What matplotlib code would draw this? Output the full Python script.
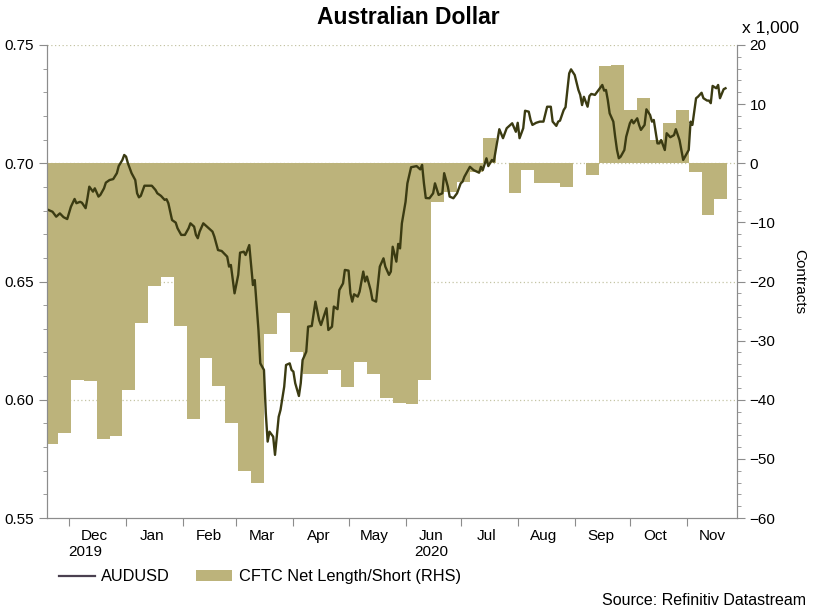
import pandas as pd
import matplotlib
matplotlib.use('Agg')
import matplotlib.pyplot as plt
import matplotlib.dates as mdates
from matplotlib.lines import Line2D
from matplotlib.patches import Patch
from matplotlib.ticker import MultipleLocator, NullFormatter

plt.rcParams['font.family'] = ['Liberation Sans', 'DejaVu Sans']

# AUDUSD (daily)
aud_dates = [
    '2019-11-19', '2019-11-22', '2019-11-24', '2019-11-26', '2019-11-28', '2019-11-30',
    '2019-12-02', '2019-12-04', '2019-12-05', '2019-12-07', '2019-12-08', '2019-12-10',
    '2019-12-11', '2019-12-12', '2019-12-14', '2019-12-15', '2019-12-17', '2019-12-18',
    '2019-12-20', '2019-12-21', '2019-12-23', '2019-12-25', '2019-12-27', '2019-12-28',
    '2019-12-30', '2019-12-31', '2020-01-01', '2020-01-02', '2020-01-04', '2020-01-06',
    '2020-01-07', '2020-01-08', '2020-01-09', '2020-01-11', '2020-01-13', '2020-01-15',
    '2020-01-17', '2020-01-18', '2020-01-20', '2020-01-22', '2020-01-23', '2020-01-24',
    '2020-01-26', '2020-01-28', '2020-01-29', '2020-01-31', '2020-02-02', '2020-02-04',
    '2020-02-05', '2020-02-07', '2020-02-08', '2020-02-09', '2020-02-10', '2020-02-12',
    '2020-02-15', '2020-02-17', '2020-02-18', '2020-02-20', '2020-02-22', '2020-02-25',
    '2020-02-26', '2020-02-27', '2020-02-29', '2020-03-02', '2020-03-03', '2020-03-05',
    '2020-03-06', '2020-03-08', '2020-03-10', '2020-03-11', '2020-03-13', '2020-03-14',
    '2020-03-16', '2020-03-17', '2020-03-18', '2020-03-19', '2020-03-21', '2020-03-22',
    '2020-03-24', '2020-03-25', '2020-03-27', '2020-03-28', '2020-03-30', '2020-03-31',
    '2020-04-01', '2020-04-02', '2020-04-04', '2020-04-05', '2020-04-06', '2020-04-08',
    '2020-04-09', '2020-04-11', '2020-04-13', '2020-04-15', '2020-04-16', '2020-04-19',
    '2020-04-20', '2020-04-22', '2020-04-23', '2020-04-25', '2020-04-26', '2020-04-28',
    '2020-04-29', '2020-05-01', '2020-05-02', '2020-05-03', '2020-05-04', '2020-05-06',
    '2020-05-07', '2020-05-09', '2020-05-10', '2020-05-11', '2020-05-13', '2020-05-14',
    '2020-05-16', '2020-05-18', '2020-05-20', '2020-05-21', '2020-05-23', '2020-05-24',
    '2020-05-25', '2020-05-27', '2020-05-28', '2020-05-29', '2020-05-30', '2020-06-01',
    '2020-06-02', '2020-06-04', '2020-06-07', '2020-06-09', '2020-06-10', '2020-06-11',
    '2020-06-12', '2020-06-14', '2020-06-16', '2020-06-17', '2020-06-19', '2020-06-21',
    '2020-06-22', '2020-06-24', '2020-06-25', '2020-06-27', '2020-06-29', '2020-07-01',
    '2020-07-02', '2020-07-03', '2020-07-06', '2020-07-08', '2020-07-11', '2020-07-12',
    '2020-07-13', '2020-07-15', '2020-07-16', '2020-07-18', '2020-07-19', '2020-07-21',
    '2020-07-22', '2020-07-24', '2020-07-26', '2020-07-28', '2020-07-29', '2020-07-31',
    '2020-08-01', '2020-08-02', '2020-08-04', '2020-08-05', '2020-08-07', '2020-08-08',
    '2020-08-09', '2020-08-11', '2020-08-13', '2020-08-15', '2020-08-17', '2020-08-19',
    '2020-08-20', '2020-08-22', '2020-08-23', '2020-08-24', '2020-08-26', '2020-08-27',
    '2020-08-28', '2020-08-29', '2020-08-30', '2020-09-01', '2020-09-03', '2020-09-04',
    '2020-09-05', '2020-09-06', '2020-09-08', '2020-09-09', '2020-09-10', '2020-09-12',
    '2020-09-14', '2020-09-16', '2020-09-17', '2020-09-18', '2020-09-19', '2020-09-20',
    '2020-09-22', '2020-09-23', '2020-09-24', '2020-09-25', '2020-09-26', '2020-09-28',
    '2020-09-29', '2020-10-01', '2020-10-02', '2020-10-03', '2020-10-05', '2020-10-06',
    '2020-10-07', '2020-10-09', '2020-10-10', '2020-10-12', '2020-10-13', '2020-10-14',
    '2020-10-16', '2020-10-17', '2020-10-18', '2020-10-20', '2020-10-21', '2020-10-23',
    '2020-10-25', '2020-10-26', '2020-10-28', '2020-10-30', '2020-10-31', '2020-11-02',
    '2020-11-03', '2020-11-04', '2020-11-06', '2020-11-07', '2020-11-09', '2020-11-10',
    '2020-11-12', '2020-11-13', '2020-11-14', '2020-11-15', '2020-11-17', '2020-11-18',
    '2020-11-19', '2020-11-21', '2020-11-22',
]
aud_values = [
    0.6805, 0.6795, 0.6774, 0.6788, 0.6772, 0.6764,
    0.6816, 0.6849, 0.6831, 0.6837, 0.6833, 0.6810,
    0.6852, 0.6901, 0.6880, 0.6894, 0.6859, 0.6866,
    0.6894, 0.6918, 0.6929, 0.6933, 0.6958, 0.6988,
    0.7014, 0.7035, 0.7028, 0.7000, 0.6958, 0.6929,
    0.6873, 0.6856, 0.6862, 0.6905, 0.6905, 0.6905,
    0.6887, 0.6873, 0.6862, 0.6845, 0.6848, 0.6831,
    0.6760, 0.6749, 0.6725, 0.6697, 0.6697, 0.6725,
    0.6746, 0.6732, 0.6697, 0.6683, 0.6711, 0.6746,
    0.6725, 0.6711, 0.6690, 0.6633, 0.6629, 0.6605,
    0.6563, 0.6570, 0.6450, 0.6528, 0.6622, 0.6626,
    0.6612, 0.6654, 0.6485, 0.6506, 0.6295, 0.6154,
    0.6126, 0.5943, 0.5823, 0.5865, 0.5844, 0.5767,
    0.5928, 0.5957, 0.6055, 0.6147, 0.6154, 0.6126,
    0.6119, 0.6070, 0.6016, 0.6070, 0.6168, 0.6203,
    0.6309, 0.6312, 0.6415, 0.6337, 0.6316, 0.6387,
    0.6295, 0.6309, 0.6394, 0.6383, 0.6464, 0.6492,
    0.6549, 0.6546, 0.6450, 0.6415, 0.6446, 0.6436,
    0.6457, 0.6542, 0.6500, 0.6521, 0.6464, 0.6422,
    0.6415, 0.6563, 0.6598, 0.6563, 0.6528, 0.6542,
    0.6647, 0.6584, 0.6659, 0.6640, 0.6746, 0.6837,
    0.6915, 0.6983, 0.6988, 0.6974, 0.6993, 0.6915,
    0.6853, 0.6852, 0.6873, 0.6915, 0.6866, 0.6873,
    0.6958, 0.6901, 0.6859, 0.6852, 0.6873, 0.6915,
    0.6922, 0.6943, 0.6985, 0.6971, 0.6960, 0.6985,
    0.6971, 0.7021, 0.6988, 0.7014, 0.7007, 0.7098,
    0.7144, 0.7106, 0.7148, 0.7162, 0.7169, 0.7133,
    0.7171, 0.7106, 0.7148, 0.7222, 0.7218, 0.7183,
    0.7162, 0.7171, 0.7176, 0.7176, 0.7239, 0.7239,
    0.7176, 0.7158, 0.7176, 0.7180, 0.7225, 0.7237,
    0.7310, 0.7380, 0.7397, 0.7373, 0.7310, 0.7289,
    0.7246, 0.7281, 0.7239, 0.7284, 0.7293, 0.7289,
    0.7310, 0.7331, 0.7307, 0.7310, 0.7267, 0.7211,
    0.7176, 0.7112, 0.7056, 0.7021, 0.7028, 0.7056,
    0.7112, 0.7169, 0.7183, 0.7169, 0.7190, 0.7162,
    0.7141, 0.7162, 0.7228, 0.7204, 0.7176, 0.7183,
    0.7084, 0.7084, 0.7098, 0.7056, 0.7127, 0.7110,
    0.7119, 0.7144, 0.7098, 0.7014, 0.7028, 0.7056,
    0.7176, 0.7162, 0.7275, 0.7281, 0.7298, 0.7275,
    0.7265, 0.7265, 0.7254, 0.7327, 0.7317, 0.7331,
    0.7275, 0.7313, 0.7317,
]

# CFTC net length/short, thousands of contracts, weekly
cftc_start = '2019-11-18'
cftc_values = [
    -47.5, -45.6, -36.6, -36.8, -46.6, -46.1, -38.3, -27.1, -20.7, -19.3,
    -27.6, -43.2, -32.9, -37.6, -43.9, -52.0, -54.1, -28.8, -25.3, -31.9,
    -35.6, -35.7, -34.9, -37.9, -33.6, -35.6, -39.7, -40.6, -40.8, -36.6,
    -6.6, -4.9, -3.2, -1.5, 4.3, 0.0, -5.0, -1.1, -3.4, -3.3,
    -4.0, 0.0, -2.0, 16.5, 16.6, 9.0, 11.0, 3.9, 6.8, 9.0,
    -1.4, -8.7, -6.1,
]

line_color = '#3b3b12'
fill_color = '#bcb37b'
grid_color = '#c4c4a4'
spine_color = '#8c8c8c'

aud_x = pd.to_datetime(aud_dates)
# step edges: one extra week so the last value gets its full width
cftc_x = pd.date_range(cftc_start, periods=len(cftc_values) + 1, freq='W-MON')
cftc_y = cftc_values + [cftc_values[-1]]

fig = plt.figure(figsize=(8.16, 6.08), dpi=100)
ax = fig.add_axes([0.0576, 0.148, 0.845, 0.778])
ax_r = ax.twinx()
# fill sits underneath the price line
ax.set_zorder(ax_r.get_zorder() + 1)
ax.patch.set_visible(False)

ax_r.fill_between(cftc_x, cftc_y, 0, step='post', color=fill_color,
                  linewidth=0, zorder=2)
ax.plot(aud_x, aud_values, color=line_color, linewidth=1.7)

ax.set_xlim(pd.Timestamp('2019-11-19'), pd.Timestamp('2020-11-28'))
ax.set_ylim(0.55, 0.75)
ax_r.set_ylim(-60, 20)

# gridlines behind the fill
ax_r.xaxis.set_major_locator(mdates.MonthLocator())
ax_r.grid(axis='x', color=grid_color, linestyle=(0, (1, 2)), linewidth=0.9, zorder=0)
for yv in [0.60, 0.65, 0.70, 0.75]:
    ax_r.plot([0, 1], [yv, yv], transform=ax.get_yaxis_transform(),
              color=grid_color, linestyle=(0, (1, 2)), linewidth=0.9, zorder=0)

# x axis: ticks at month starts, labels in the middle of the month
ax.xaxis.set_major_locator(mdates.MonthLocator())
ax.xaxis.set_major_formatter(NullFormatter())
ax.xaxis.set_minor_locator(mdates.MonthLocator(bymonthday=15))
ax.xaxis.set_minor_formatter(mdates.DateFormatter('%b'))
ax.tick_params(axis='x', which='major', length=6, color=spine_color)
ax.tick_params(axis='x', which='minor', length=0, labelsize=11, pad=8)

for yr, day in [('2019', '2019-12-10'), ('2020', '2020-06-15')]:
    ax.text(pd.Timestamp(day), -0.056, yr, transform=ax.get_xaxis_transform(),
            ha='center', va='top', fontsize=11)

ax.yaxis.set_major_locator(MultipleLocator(0.05))
ax.yaxis.set_minor_locator(MultipleLocator(0.01))
ax.yaxis.set_major_formatter(matplotlib.ticker.FormatStrFormatter('%.2f'))
ax.tick_params(axis='y', which='major', length=6, labelsize=11, color=spine_color)
ax.tick_params(axis='y', which='minor', length=3, color=spine_color)

ax_r.yaxis.set_major_locator(MultipleLocator(10))
ax_r.yaxis.set_minor_locator(MultipleLocator(2))
ax_r.tick_params(axis='y', which='major', length=6, labelsize=11, color=spine_color)
ax_r.tick_params(axis='y', which='minor', length=3, color=spine_color)
ax_r.set_ylabel('Contracts', fontsize=11, rotation=-90, labelpad=22)
ax_r.text(1.008, 1.02, 'x 1,000', transform=ax_r.transAxes, fontsize=12.5,
          ha='left', va='bottom')

for a in (ax, ax_r):
    a.spines['top'].set_visible(False)
    for s in ('left', 'right', 'bottom'):
        a.spines[s].set_color(spine_color)

fig.text(0.5, 0.972, 'Australian Dollar', ha='center', va='center',
         fontsize=16.5, fontweight='bold')

handles = [Line2D([], [], color='#4a4050', linewidth=1.6),
           Patch(facecolor=fill_color, edgecolor='none')]
fig.legend(handles, ['AUDUSD', 'CFTC Net Length/Short (RHS)'], ncol=2,
           loc='center left', bbox_to_anchor=(0.058, 0.051), frameon=False,
           fontsize=11.8, handlelength=2.2, columnspacing=1.6, handletextpad=0.4,
           borderpad=0.2)

fig.text(0.988, 0.013, 'Source: Refinitiv Datastream', ha='right', va='center',
         fontsize=11.5)

plt.savefig('out.png', dpi=100)
plt.close()
